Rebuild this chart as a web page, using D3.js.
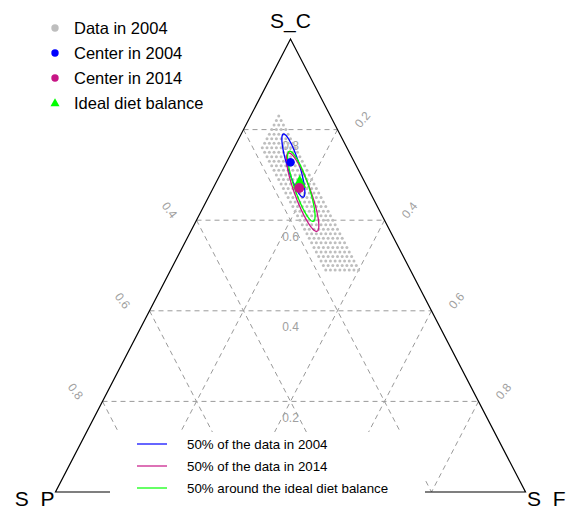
<!DOCTYPE html>
<html>
<head>
<meta charset="utf-8">
<script src="https://cdn.jsdelivr.net/npm/d3@7"></script>
<style>
  body { margin: 0; background: #fff; }
  svg { display: block; font-family: "Liberation Sans", Arial, sans-serif; }
</style>
</head>
<body>
<svg id="chart" width="568" height="506"></svg>
<script>
// Corner names (top, bottom-left, bottom-right)
const axisNames = ["S_C", "S_P", "S_F"];

// Grid shares and tick labels
const gridValues = [0.2, 0.4, 0.6, 0.8];
const leftTicks = [0.4, 0.6, 0.8];        // S_P along the left edge
const rightTicks = [0.2, 0.4, 0.6, 0.8];  // S_F along the right edge
const centerTicks = [0.8, 0.6, 0.4, 0.2]; // S_C down the middle

// Observations in 2004, on a 1% lattice: one row per S_C (%), S_P (%) from min to max
const rowC    = [83, 82, 81, 80, 79, 78, 77, 76, 75, 74, 73, 72, 71, 70, 69, 68, 67, 66,
                 65, 64, 63, 62, 61, 60, 59, 58, 57, 56, 55, 54, 53, 52, 51, 50, 49];
const rowPMin = [11, 11, 11, 11, 11, 11, 11, 11, 11, 11, 11, 11, 11, 11, 11, 11, 11, 11,
                 11, 11, 11, 11, 11, 11, 11, 11, 11, 11, 11, 11, 11, 11, 11, 11, 11];
const rowPMax = [11, 12, 13, 14, 15, 16, 17, 18, 18, 18, 18, 18, 18, 18, 18, 18, 18, 18,
                 18, 18, 18, 18, 18, 18, 18, 18, 18, 18, 18, 18, 18, 18, 18, 18, 18];

// Centres (shares of C, P, F)
const center2004 = { c: 0.728, p: 0.136, f: 0.136 };
const center2014 = { c: 0.671, p: 0.146, f: 0.183 };
const idealBalance = { c: 0.683, p: 0.139, f: 0.178 };

// 50% regions: centre and two semi-axes, given as (dC, dF) composition offsets
const ellipse2004  = { c: 0.7205, f: 0.1458, major: [-0.0697, 0.0561], minor: [0.0040, 0.0101] };
const ellipse2014  = { c: 0.6620, f: 0.1948, major: [-0.0863, 0.0737], minor: [0.0060, 0.0130] };
const ellipseIdeal = { c: 0.6749, f: 0.1856, major: [-0.0773, 0.0642], minor: [0.0050, 0.0116] };

const pointLegend = ["Data in 2004", "Center in 2004", "Center in 2014", "Ideal diet balance"];
const lineLegend = ["50% of the data in 2004", "50% of the data in 2014", "50% around the ideal diet balance"];

const colGrey = "#bebebe", colBlue = "#0000ff", colMagenta = "#c71585", colGreen = "#00ff00";

const svg = d3.select("#chart");

// Ternary projection: vertical position from S_C, horizontal from S_F + S_C/2
const yScale = d3.scaleLinear().domain([0, 1]).range([492, 39]);
const xScale = d3.scaleLinear().domain([0, 1]).range([55.5, 525.5]);
const proj = (c, f) => [xScale(f + c / 2), yScale(c)];

const line = d3.line();

// dashed grid
const gridG = svg.append("g")
  .attr("fill", "none").attr("stroke", "#9a9a9a").attr("stroke-width", 1)
  .attr("stroke-dasharray", "5,4");
gridValues.forEach(v => {
  gridG.append("path").attr("d", line([proj(v, 0), proj(v, 1 - v)]));        // constant S_C
  gridG.append("path").attr("d", line([proj(1 - v, v), proj(0, v)]));        // constant S_F
  gridG.append("path").attr("d", line([proj(1 - v, 0), proj(0, 1 - v)]));    // constant S_P
});

// triangle outline
svg.append("path")
  .attr("d", line([proj(1, 0), proj(0, 0), proj(0, 1)]) + "Z")
  .attr("fill", "none").attr("stroke", "#000").attr("stroke-width", 1.2);

// tick labels
const tickG = svg.append("g").attr("fill", "#a0a0a0").attr("font-size", 12)
  .attr("text-anchor", "middle").attr("dominant-baseline", "central");
leftTicks.forEach(v => {
  const [x, y] = proj(1 - v, 0);
  tickG.append("text").attr("transform", `translate(${x - 27},${y - 10}) rotate(52)`)
    .text(d3.format(".1f")(v));
});
rightTicks.forEach(v => {
  const [x, y] = proj(1 - v, v);
  tickG.append("text").attr("transform", `translate(${x + 25},${y - 10}) rotate(-50)`)
    .text(d3.format(".1f")(v));
});
centerTicks.forEach(v => {
  const [x, y] = proj(v, 0.5 - v / 2);
  tickG.append("text").attr("x", x).attr("y", y + 16.5).text(d3.format(".1f")(v));
});

// 2004 observations
const obs = [];
rowC.forEach((c, i) => {
  for (let p = rowPMin[i]; p <= rowPMax[i]; p++) {
    obs.push({ c: c / 100, p: p / 100, f: (100 - c - p) / 100 });
  }
});
svg.append("g").selectAll("circle").data(obs).join("circle")
  .attr("cx", d => proj(d.c, d.f)[0]).attr("cy", d => proj(d.c, d.f)[1])
  .attr("r", 1.5).attr("fill", colGrey);

// 50% ellipses
function ellipsePath(e) {
  const pts = d3.range(0, 121).map(i => {
    const t = i / 120 * 2 * Math.PI;
    const c = e.c + Math.cos(t) * e.major[0] + Math.sin(t) * e.minor[0];
    const f = e.f + Math.cos(t) * e.major[1] + Math.sin(t) * e.minor[1];
    return proj(c, f);
  });
  return line(pts) + "Z";
}
[[ellipse2004, colBlue], [ellipse2014, colMagenta], [ellipseIdeal, colGreen]].forEach(([e, col]) => {
  svg.append("path").attr("d", ellipsePath(e))
    .attr("fill", "none").attr("stroke", col).attr("stroke-width", 1.3);
});

// centres
const triPath = (cx, cy, h, w) => `M${cx},${cy - h * 0.6}L${cx + w / 2},${cy + h * 0.4}L${cx - w / 2},${cy + h * 0.4}Z`;
{
  const [x1, y1] = proj(center2004.c, center2004.f);
  svg.append("circle").attr("cx", x1).attr("cy", y1).attr("r", 4.3).attr("fill", colBlue);
  const [x3, y3] = proj(idealBalance.c, idealBalance.f);
  svg.append("path").attr("d", triPath(x3, y3, 13, 13)).attr("fill", colGreen);
  const [x2, y2] = proj(center2014.c, center2014.f);
  svg.append("circle").attr("cx", x2).attr("cy", y2).attr("r", 5).attr("fill", colMagenta);
}

// corner names
const nameG = svg.append("g").attr("font-size", 21).attr("fill", "#000");
nameG.append("text").attr("x", proj(1, 0)[0]).attr("y", 28).attr("text-anchor", "middle").text(axisNames[0]);
nameG.append("text").attr("x", proj(0, 0)[0] - 1).attr("y", 506).attr("text-anchor", "end").text(axisNames[1]);
nameG.append("text").attr("x", proj(0, 1)[0] + 1.5).attr("y", 506).attr("text-anchor", "start").text(axisNames[2]);

// point legend (top left)
const lg = svg.append("g").attr("font-size", 16.5);
const pointCols = [colGrey, colBlue, colMagenta, colGreen];
pointLegend.forEach((label, i) => {
  const y = 28 + i * 25;
  if (i < 3) {
    lg.append("circle").attr("cx", 55).attr("cy", y).attr("r", 3.7).attr("fill", pointCols[i]);
  } else {
    lg.append("path").attr("d", triPath(55, y, 8, 9)).attr("fill", pointCols[i]);
  }
  lg.append("text").attr("x", 74).attr("y", y).attr("dominant-baseline", "central").text(label);
});

// line legend (bottom, on a white panel)
const bl = svg.append("g").attr("font-size", 13.3);
bl.append("rect").attr("x", 110).attr("y", 432).attr("width", 315).attr("height", 74).attr("fill", "#fff");
const lineCols = [colBlue, colMagenta, colGreen];
lineLegend.forEach((label, i) => {
  const y = 444 + i * 22;
  bl.append("line").attr("x1", 137).attr("x2", 167).attr("y1", y).attr("y2", y)
    .attr("stroke", lineCols[i]).attr("stroke-width", 1.2);
  bl.append("text").attr("x", 187).attr("y", y).attr("dominant-baseline", "central").text(label);
});
</script>
</body>
</html>
